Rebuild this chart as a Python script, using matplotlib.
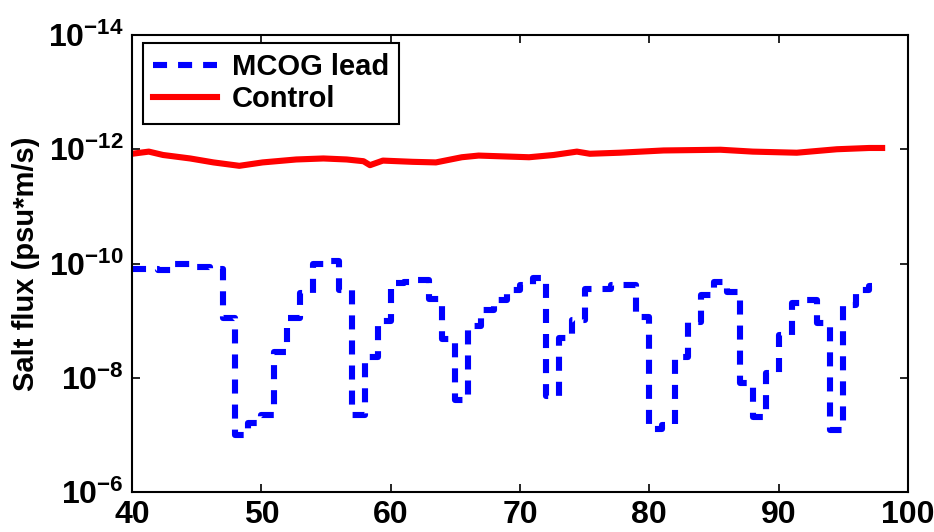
import matplotlib
matplotlib.use("Agg")
import matplotlib.pyplot as plt
from matplotlib.ticker import FixedLocator, FuncFormatter, NullLocator
import math

plt.rcParams['font.family'] = ['Liberation Sans', 'DejaVu Sans']
plt.rcParams['font.weight'] = 'bold'
plt.rcParams['mathtext.fontset'] = 'custom'
plt.rcParams['mathtext.rm'] = 'Liberation Sans:bold'
plt.rcParams['mathtext.it'] = 'Liberation Sans:bold'
plt.rcParams['mathtext.bf'] = 'Liberation Sans:bold'
plt.rcParams['mathtext.default'] = 'rm'
plt.rcParams['axes.unicode_minus'] = False

# ---- data ----
mcog_x = [40, 41, 42, 43, 44, 45, 46, 47, 48, 49, 50, 51, 52, 53, 54, 55, 56, 57, 58, 59,
          60, 61, 62, 63, 64, 65, 66, 67, 68, 69, 70, 71, 72, 73, 74, 75, 76, 77, 78, 79,
          80, 81, 82, 83, 84, 85, 86, 87, 88, 89, 90, 91, 92, 93, 94, 95, 96, 97, 97.2]
mcog_y = [1.26e-10, 1.26e-10, 1.32e-10, 1.02e-10, 1.02e-10, 1.17e-10, 1.26e-10, 8.9e-10,
          1.0e-7, 6.3e-8, 4.5e-8, 3.5e-9, 8.9e-10, 3.3e-10, 1.0e-10, 9.1e-11, 2.9e-10,
          4.5e-8, 4.3e-9, 1.0e-9, 2.2e-10, 2.1e-10, 1.95e-10, 4.1e-10, 2.1e-9, 2.5e-8,
          1.26e-9, 6.5e-10, 4.4e-10, 2.9e-10, 2.4e-10, 1.8e-10, 2.1e-8, 2.0e-9, 9.8e-10,
          2.75e-10, 2.75e-10, 2.4e-10, 2.4e-10, 8.5e-10, 7.9e-8, 6.8e-8, 4.3e-9, 1.05e-9,
          3.5e-10, 2.1e-10, 3.2e-10, 1.26e-8, 4.8e-8, 8.3e-9, 1.8e-9, 5.0e-10, 4.4e-10,
          1.1e-9, 8.3e-8, 5.4e-10, 2.9e-10, 2.45e-10, 2.45e-10]

control_x = [40.0, 41.3, 42.4, 44.5, 46.3, 48.3, 50.1, 52.7, 54.8, 56.6, 57.9, 58.4, 59.4,
             61.7, 63.5, 65.5, 66.8, 69.4, 70.7, 72.6, 74.4, 75.4, 77.7, 81.1, 85.5, 88.0,
             91.4, 94.5, 97.0, 98.0]
control_y = [1.20e-12, 1.10e-12, 1.26e-12, 1.45e-12, 1.70e-12, 1.95e-12, 1.70e-12, 1.51e-12,
             1.45e-12, 1.51e-12, 1.62e-12, 1.90e-12, 1.58e-12, 1.66e-12, 1.70e-12, 1.38e-12,
             1.29e-12, 1.35e-12, 1.38e-12, 1.26e-12, 1.10e-12, 1.20e-12, 1.15e-12, 1.05e-12,
             1.02e-12, 1.10e-12, 1.15e-12, 1.00e-12, 0.95e-12, 0.95e-12]

x_ticks = [40, 50, 60, 70, 80, 90, 100]
y_ticks = [1e-14, 1e-12, 1e-10, 1e-8, 1e-6]
labels = ['MCOG lead', 'Control']
ylabel = 'Salt flux (psu*m/s)'

# ---- plot ----
fig = plt.figure(figsize=(9.34, 5.32), dpi=100)
ax = fig.add_axes([132 / 934, 1 - 492 / 532, 776 / 934, 457 / 532])

LW = 4.4
ax.step(mcog_x, mcog_y, where='post', color=(0, 0, 1), lw=LW,
        dashes=(2.3, 1.8), label=labels[0])
ax.plot(control_x, control_y, color=(1, 0, 0), lw=LW, label=labels[1],
        solid_joinstyle='round')

ax.set_yscale('log')
ax.set_xlim(40, 100)
ax.set_ylim(1e-6, 1e-14)
ax.xaxis.set_major_locator(FixedLocator(x_ticks))
ax.yaxis.set_major_locator(FixedLocator(y_ticks))
ax.yaxis.set_minor_locator(NullLocator())
ax.xaxis.set_minor_locator(NullLocator())


def fmt(v, pos):
    e = int(round(math.log10(v)))
    return r'$10^{%d}$' % e


ax.yaxis.set_major_formatter(FuncFormatter(fmt))
ax.tick_params(axis='both', which='major', direction='in', length=6, width=1.2,
               labelsize=23, top=True, right=True)
ax.tick_params(axis='x', pad=6)
ax.tick_params(axis='y', pad=6)
for lab in ax.get_xticklabels() + ax.get_yticklabels():
    lab.set_fontweight('bold')
for s in ax.spines.values():
    s.set_linewidth(1.5)

ax.set_ylabel(ylabel, fontsize=21, fontweight='bold', labelpad=6)

leg = ax.legend(loc='upper left', bbox_to_anchor=(0.014, 0.983), borderaxespad=0,
                fancybox=False, edgecolor='black', framealpha=1,
                prop={'size': 21, 'weight': 'bold'}, handlelength=2.2,
                handletextpad=0.5, labelspacing=0.15, borderpad=0.35)
leg.get_frame().set_linewidth(1.5)

fig.savefig('out.png', dpi=100)
